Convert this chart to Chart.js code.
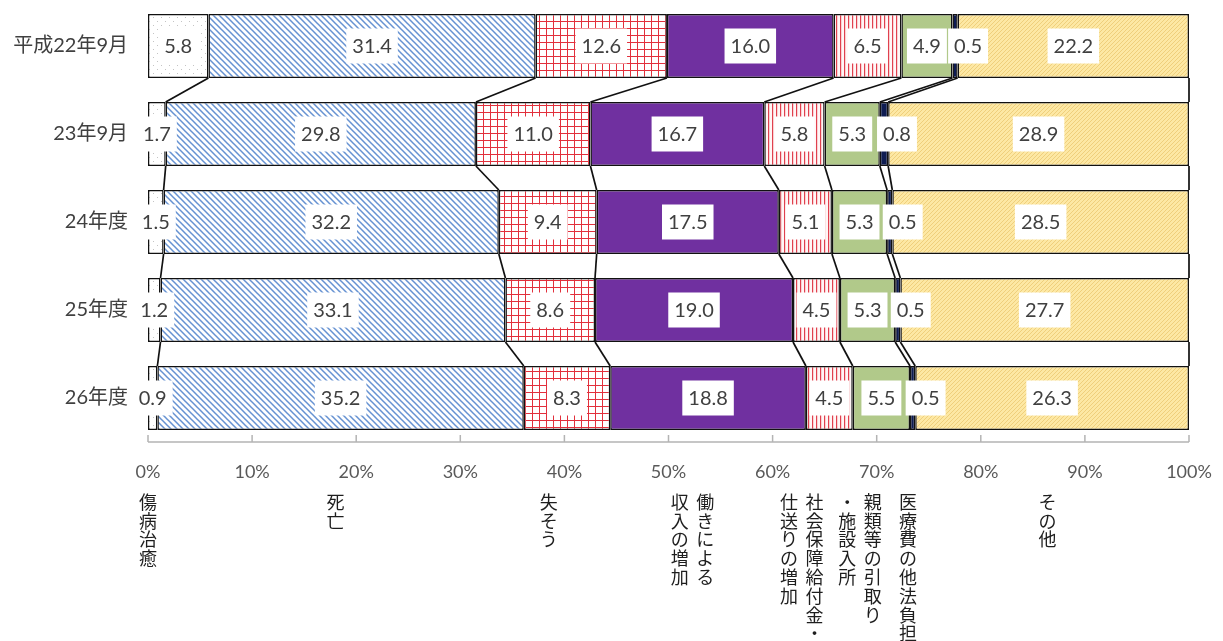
<!DOCTYPE html>
<html lang="ja">
<head>
<meta charset="utf-8">
<title>保護廃止の理由別構成比</title>
<script src="https://cdn.jsdelivr.net/npm/chart.js@4.4.1/dist/chart.umd.min.js"></script>
<style>
  html, body { margin: 0; padding: 0; background: #fff; }
  #contenedor { width: 1223px; height: 641px; }
</style>
</head>
<body>
<div id="contenedor"><canvas id="graficaMotivos" width="1223" height="641"></canvas></div>
<script>
// --- Datos (%) ---
const categorias = ['平成22年9月', '23年9月', '24年度', '25年度', '26年度'];
const nombresSeries = ['傷病治癒', '死亡', '失そう', '働きによる収入の増加', '社会保障給付金・仕送りの増加', '親類等の引取り・施設入所', '医療費の他法負担', 'その他'];
const shobyoChiyu = [5.8, 1.7, 1.5, 1.2, 0.9];
const shibo = [31.4, 29.8, 32.2, 33.1, 35.2];
const shisso = [12.6, 11.0, 9.4, 8.6, 8.3];
const shunyuZoka = [16.0, 16.7, 17.5, 19.0, 18.8];
const shakaiHosho = [6.5, 5.8, 5.1, 4.5, 4.5];
const hikitori = [4.9, 5.3, 5.3, 5.3, 5.5];
const iryohi = [0.5, 0.8, 0.5, 0.5, 0.5];
const sonota = [22.2, 28.9, 28.5, 27.7, 26.3];
const etiquetasEjeX = ['0%', '10%', '20%', '30%', '40%', '50%', '60%', '70%', '80%', '90%', '100%'];

// Rótulos verticales bajo el eje (una columna por línea, de derecha a izquierda)
const notasColumnas = [['傷病治癒'], ['死亡'], ['失そう'], ['働きによる', '収入の増加'], ['社会保障給付金・', '仕送りの増加'], ['親類等の引取り', '・施設入所'], ['医療費の他法負担'], ['その他']];
const notasPosicion = [0, 18, 38.5, 52.3, 62.8, 68.4, 73.0, 86.4];

const series = [shobyoChiyu, shibo, shisso, shunyuZoka, shakaiHosho, hikitori, iryohi, sonota];

const canvas = document.getElementById('graficaMotivos');
const ctx = canvas.getContext('2d');

// --- Tramas tipo Excel ---
function crearTrama(w, h, fondo, dibujar) {
    const c = document.createElement('canvas');
    c.width = w; c.height = h;
    const g = c.getContext('2d');
    g.fillStyle = fondo;
    g.fillRect(0, 0, w, h);
    dibujar(g);
    return ctx.createPattern(c, 'repeat');
}

const tramaPuntos = crearTrama(8, 8, '#ffffff', g => {
    g.fillStyle = '#c4c4c4';
    g.fillRect(1, 1, 1, 1);
    g.fillRect(5, 5, 1, 1);
});
const tramaAzul = crearTrama(6, 6, '#ffffff', g => {
    g.strokeStyle = '#6692d2';
    g.lineWidth = 1.5;
    g.beginPath();
    g.moveTo(-1, -1); g.lineTo(7, 7);
    g.moveTo(-1, 5); g.lineTo(1, 7);
    g.moveTo(5, -1); g.lineTo(7, 1);
    g.stroke();
});
const tramaCuadricula = crearTrama(7, 7, '#ffffff', g => {
    g.fillStyle = '#e2303c';
    g.fillRect(0, 0, 7, 1);
    g.fillRect(0, 0, 1, 7);
});
const tramaVertical = crearTrama(4, 4, '#fff6f6', g => {
    g.fillStyle = '#e0404e';
    g.fillRect(0, 0, 1.2, 4);
});
const tramaAmarilla = crearTrama(4, 4, '#fde8a4', g => {
    g.strokeStyle = '#efcf7c';
    g.lineWidth = 1;
    g.beginPath();
    g.moveTo(-1, 5); g.lineTo(5, -1);
    g.moveTo(-1, 1); g.lineTo(1, -1);
    g.moveTo(3, 5); g.lineTo(5, 3);
    g.stroke();
});

const rellenos = [tramaPuntos, tramaAzul, tramaCuadricula, '#7030a0', tramaVertical, '#b1c98a', '#0e1c52', tramaAmarilla];
// desplazamiento horizontal de algunas etiquetas (px) para que no se pisen
const desplazEtiqueta = [0, 0, 0, 0, 0, 0, 13, 0];

// Normalizamos cada fila a 100 (gráfico 100% apilado)
const sumasFila = categorias.map((_, i) => series.reduce((a, s) => a + s[i], 0));

const datasets = series.map((valores, d) => ({
    label: nombresSeries[d],
    data: valores.map((v, i) => v / sumasFila[i] * 100),
    valoresOriginales: valores,
    backgroundColor: rellenos[d],
    borderColor: '#111111',
    borderWidth: 1.5,
    borderSkipped: false,
    barPercentage: 0.727,
    categoryPercentage: 1.0
}));

const FUENTE = "Lato, 'Noto Sans CJK JP', sans-serif";

// --- Plugin: líneas de serie y etiquetas de datos ---
const pluginLineasYEtiquetas = {
    id: 'lineasYEtiquetas',
    afterDatasetsDraw(chart) {
        const c = chart.ctx;
        c.save();
        // líneas entre barras
        c.strokeStyle = '#111111';
        c.lineWidth = 1.7;
        chart.data.datasets.forEach((ds, d) => {
            const meta = chart.getDatasetMeta(d);
            for (let i = 0; i < meta.data.length - 1; i++) {
                const a = meta.data[i], b = meta.data[i + 1];
                c.beginPath();
                c.moveTo(a.x, a.y + a.height / 2);
                c.lineTo(b.x, b.y - b.height / 2);
                c.stroke();
            }
        });
        // etiquetas con recuadro blanco
        c.font = '20px ' + FUENTE;
        c.textAlign = 'center';
        c.textBaseline = 'middle';
        chart.data.datasets.forEach((ds, d) => {
            const meta = chart.getDatasetMeta(d);
            meta.data.forEach((el, i) => {
                const texto = ds.valoresOriginales[i].toFixed(1);
                const cx = (el.x + el.base) / 2 + desplazEtiqueta[d];
                const cy = el.y;
                const w = c.measureText(texto).width + 12;
                const h = 35;
                c.fillStyle = '#ffffff';
                c.fillRect(cx - w / 2, cy - h / 2, w, h);
                c.fillStyle = '#404040';
                c.fillText(texto, cx, cy + 1);
            });
        });
        c.restore();
    }
};

// --- Plugin: eje inferior con marcas interiores y rótulos verticales ---
const pluginEjeYNotas = {
    id: 'ejeYNotas',
    afterDraw(chart) {
        const c = chart.ctx;
        const x = chart.scales.x;
        const area = chart.chartArea;
        c.save();
        c.strokeStyle = '#b4b4b4';
        c.lineWidth = 1.5;
        c.beginPath();
        c.moveTo(x.getPixelForValue(0), area.bottom);
        c.lineTo(x.getPixelForValue(100), area.bottom);
        for (let v = 0; v <= 100; v += 10) {
            const px = x.getPixelForValue(v);
            c.moveTo(px, area.bottom);
            c.lineTo(px, area.bottom - 7);
        }
        c.stroke();

        c.fillStyle = '#1e1e1e';
        c.font = "18px 'Noto Sans CJK JP', sans-serif";
        c.textAlign = 'center';
        c.textBaseline = 'top';
        notasColumnas.forEach((cols, k) => {
            const centro = x.getPixelForValue(notasPosicion[k]);
            cols.forEach((texto, j) => {
                const colX = centro + ((cols.length - 1) / 2 - j) * 25.5;
                Array.from(texto).forEach((ch, m) => {
                    c.fillText(ch, colX, 493 + m * 18.8);
                });
            });
        });
        c.restore();
    }
};

// Sin márgenes automáticos de las escalas: el área del gráfico queda fija
function fijarEscala(tam, vertical) {
    return (scale) => {
        if (vertical) scale.width = tam; else scale.height = tam;
        scale.paddingTop = 0;
        scale.paddingBottom = 0;
        scale.paddingLeft = 0;
        scale.paddingRight = 0;
    };
}

new Chart(canvas, {
    type: 'bar',
    data: { labels: categorias, datasets: datasets },
    options: {
        indexAxis: 'y',
        responsive: false,
        devicePixelRatio: 1,
        animation: false,
        layout: { padding: { top: 2, right: 34, left: 0, bottom: 0 } },
        plugins: {
            legend: { display: false },
            tooltip: { enabled: false }
        },
        scales: {
            x: {
                stacked: true,
                min: 0,
                max: 100,
                grid: { display: false, drawTicks: false, tickLength: 0 },
                border: { display: false },
                ticks: {
                    stepSize: 10,
                    autoSkip: false,
                    maxRotation: 0,
                    padding: 19,
                    color: '#595959',
                    font: { family: FUENTE, size: 18 },
                    callback: (v, i) => etiquetasEjeX[i]
                },
                afterFit: fijarEscala(199, false)
            },
            y: {
                stacked: true,
                grid: { display: false, drawTicks: false, tickLength: 0 },
                border: { display: false },
                ticks: {
                    padding: 20,
                    color: '#404040',
                    font: { family: FUENTE, size: 20 }
                },
                afterFit: fijarEscala(148, true)
            }
        }
    },
    plugins: [pluginLineasYEtiquetas, pluginEjeYNotas]
});
</script>
</body>
</html>
